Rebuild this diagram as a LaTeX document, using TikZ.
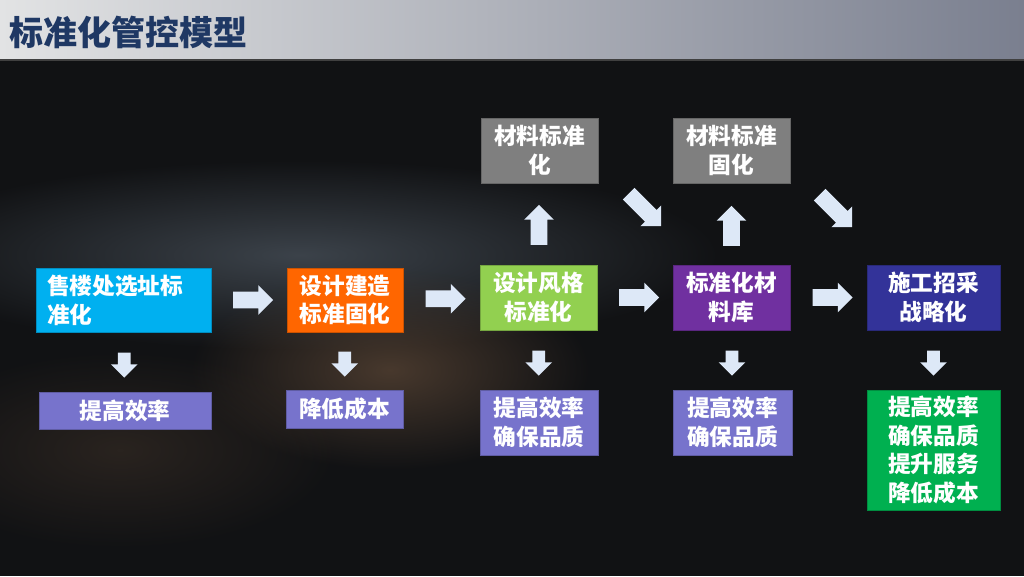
\documentclass[tikz,border=0pt]{standalone}
\usepackage{fontspec}
\setmainfont{Noto Sans CJK SC}
\usetikzlibrary{shapes.arrows,fadings,calc}
\definecolor{bgc}{HTML}{111214}
\definecolor{tbl}{HTML}{E2E3E4}
\definecolor{tbr}{HTML}{7A7F8F}
\definecolor{titlec}{HTML}{1F3864}
\definecolor{cyanc}{HTML}{00B0F0}
\definecolor{orangec}{HTML}{FF6600}
\definecolor{greenc}{HTML}{92D050}
\definecolor{purplec}{HTML}{7030A0}
\definecolor{navyc}{HTML}{333399}
\definecolor{grayc}{HTML}{7F7F7F}
\definecolor{lilac}{HTML}{7773CC}
\definecolor{darkgreenc}{HTML}{00B050}
\definecolor{arrowc}{HTML}{DDE8F7}
\definecolor{glowa}{HTML}{3E454D}
\definecolor{glowb}{HTML}{4E3D30}
\tikzfading[name=glowfade, inner color=transparent!0, outer color=transparent!100]
\begin{document}
\begin{tikzpicture}[x=0.75pt,y=-0.75pt,
  box/.style={draw=#1!80!black, line width=0.6pt, fill=#1, text=white,
    font=\fontsize{17}{21.5}\selectfont\bfseries, align=center, inner sep=0pt},
  harrow/.style={single arrow, fill=arrowc, draw=none, inner sep=0pt,
    minimum height=40*0.75pt, minimum width=29*0.75pt, inner ysep=8*0.75pt,
    single arrow head extend=6.5*0.75pt, single arrow head indent=0pt},
  darrow/.style={single arrow, fill=arrowc, draw=none, inner sep=0pt,
    minimum height=25*0.75pt, minimum width=26*0.75pt, inner ysep=6*0.75pt,
    single arrow head extend=7*0.75pt, single arrow head indent=0pt,
    rotate=270},
  uarrow/.style={harrow, rotate=90},
  diagarrow/.style={harrow, minimum height=46*0.75pt, rotate=-45}
]
\useasboundingbox (0,0) rectangle (1024,576);
% background
\fill[bgc] (0,0) rectangle (1024,576);
\fill[glowa, path fading=glowfade, opacity=0.95] (300,255) ellipse [x radius=420, y radius=95];
\fill[glowb, path fading=glowfade, opacity=0.9] (390,370) ellipse [x radius=200, y radius=100];
\fill[glowb, path fading=glowfade, opacity=0.4] (120,450) ellipse [x radius=220, y radius=100];
% title bar
\shade[left color=tbl, right color=tbr] (0,0) rectangle (1024,59);
\fill[black!75] (0,59) rectangle (1024,61);
\node[anchor=west, text=titlec, inner sep=0pt, font=\fontsize{25.5}{30}\selectfont\bfseries] (title) at (9,32) {标准化管控模型};

% main row
\node[box=cyanc, minimum width=175*0.75pt, minimum height=64*0.75pt,
  text width=153*0.75pt, inner xsep=11*0.75pt, align=left] (b1) at (123.5,300) {售楼处选址标\\准化};
\node[box=orangec, minimum width=116*0.75pt, minimum height=64*0.75pt] (b2) at (345,300) {设计建造\\标准固化};
\node[box=greenc, minimum width=117*0.75pt, minimum height=65*0.75pt] (b3) at (538.5,297.5) {设计风格\\标准化};
\node[box=purplec, minimum width=117*0.75pt, minimum height=65*0.75pt] (b4) at (731.5,297.5) {标准化材\\料库};
\node[box=navyc, minimum width=133*0.75pt, minimum height=65*0.75pt] (b5) at (933.5,297.5) {施工招采\\战略化};

% top row
\node[box=grayc, minimum width=117*0.75pt, minimum height=65*0.75pt] (t1) at (539.5,150.5) {材料标准\\化};
\node[box=grayc, minimum width=117*0.75pt, minimum height=65*0.75pt] (t2) at (731.5,150.5) {材料标准\\固化};

% result row
\node[box=lilac, minimum width=172*0.75pt, minimum height=37*0.75pt] (r1) at (125,410.5) {提高效率};
\node[box=lilac, minimum width=117*0.75pt, minimum height=38*0.75pt] (r2) at (344.5,409) {降低成本};
\node[box=lilac, minimum width=118*0.75pt, minimum height=65*0.75pt] (r3) at (539,422.5) {提高效率\\确保品质};
\node[box=lilac, minimum width=119*0.75pt, minimum height=65*0.75pt] (r4) at (732.5,422.5) {提高效率\\确保品质};
\node[box=darkgreenc, minimum width=133*0.75pt, minimum height=120*0.75pt] (r5) at (933.5,450) {提高效率\\确保品质\\提升服务\\降低成本};

% horizontal arrows
\node[harrow] (a12) at ($(b1.east)!0.5!(b2.west)$) {};
\node[harrow] (a23) at ($(b2.east)!0.5!(b3.west)$) {};
\node[harrow] (a34) at ($(b3.east)!0.5!(b4.west)$) {};
\node[harrow] (a45) at ($(b4.east)!0.5!(b5.west)$) {};
% down arrows
\node[darrow] (d1) at ($(b1.south)!0.5!(r1.north)$) {};
\node[darrow] (d2) at ($(b2.south)!0.5!(r2.north)$) {};
\node[darrow] (d3) at ($(b3.south)!0.5!(r3.north)$) {};
\node[darrow] (d4) at ($(b4.south)!0.5!(r4.north)$) {};
\node[darrow] (d5) at ($(b5.south)!0.5!(r5.north)$) {};
% up arrows
\node[uarrow] (u1) at ($($(b3.north)!0.5!(t1.south)$)+(0,5)$) {};
\node[uarrow] (u2) at ($($(b4.north)!0.5!(t2.south)$)+(0,6)$) {};
% diagonal arrows
\node[diagarrow] (g1) at (642,207) {};
\node[diagarrow] (g2) at (833,208) {};
\end{tikzpicture}
\end{document}
